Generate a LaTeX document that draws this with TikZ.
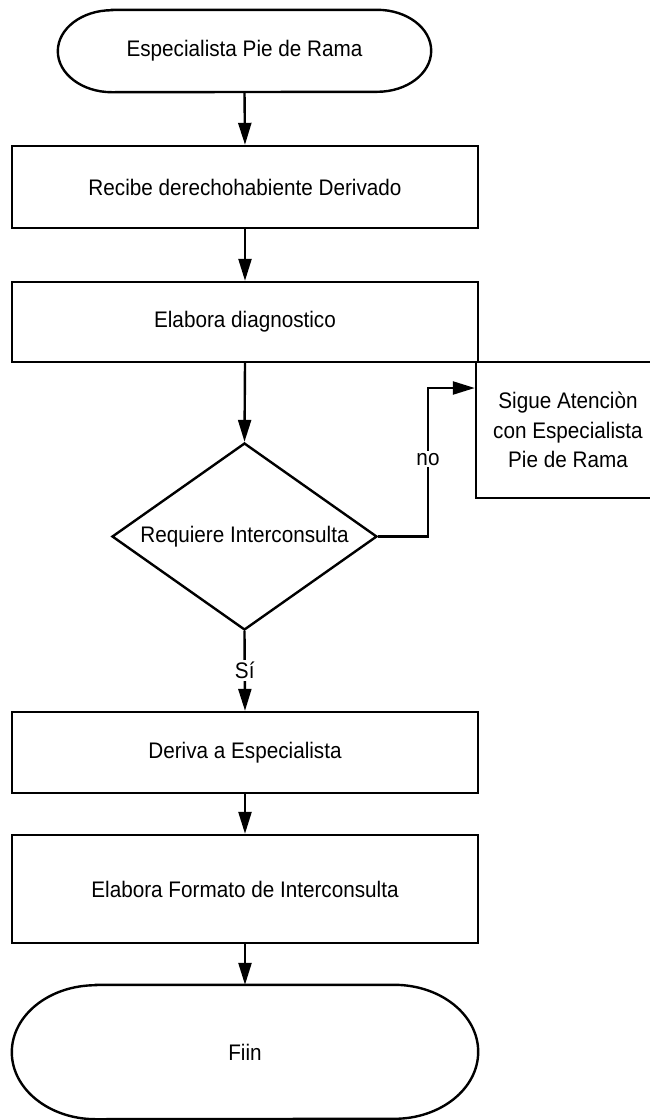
\documentclass[tikz,border=0pt]{standalone}
\usepackage{fontspec}
\setmainfont{Liberation Sans}[FakeStretch=0.92]
\usetikzlibrary{shapes.geometric,arrows.meta,calc}
\tikzset{
  every node/.style={font=\fontsize{22.5}{29.5}\selectfont, inner sep=0pt},
  procbox/.style={draw, line width=2.4pt, rectangle, minimum width=466pt},
  term/.style={rectangle},
  decision/.style={draw, line width=2.4pt, diamond, minimum width=265pt, minimum height=187pt, aspect=1.417},
  arr/.style={line width=2.4pt, -{Triangle[length=22pt,width=13pt]}},
  lbl/.style={fill=white, inner sep=2pt}
}
\begin{document}
\begin{tikzpicture}[x=1pt,y=1pt]
\useasboundingbox (0,0) rectangle (650,-1120);
\clip (0,0) rectangle (650,-1120);
\fill[white] (0,0) rectangle (650,-1120);
% nodes
\node[term, minimum width=373pt, minimum height=82pt] (start) at (244.5,-51) {Especialista Pie de Rama};
\draw[line width=2.4pt] ($(start.north west)+(54pt,0)$) -- ($(start.north east)-(54pt,0)$)
  arc[start angle=90,end angle=-90,x radius=54pt,y radius=41pt]
  -- ($(start.south west)+(54pt,0)$)
  arc[start angle=270,end angle=90,x radius=54pt,y radius=41pt] -- cycle;
\node[procbox, minimum height=82pt] (b1) at (245,-187) {Recibe derechohabiente Derivado};
\node[procbox, minimum height=80pt] (b2) at (245,-322) {Elabora diagnostico};
\node[decision] (dia) at (244.5,-536.5) {Requiere Interconsulta};
\node[procbox, minimum width=184pt, minimum height=136pt, align=center] (sigue) at (568,-430) {Sigue Atenciòn\\con Especialista\\Pie de Rama};
\node[procbox, minimum height=81pt] (b3) at (245,-752.5) {Deriva a Especialista};
\node[procbox, minimum height=108pt] (b4) at (245,-889) {Elabora Formato de Interconsulta};
\node[term, minimum width=466pt, minimum height=134pt] (fin) at (245,-1052) {Fiin};
\draw[line width=2.4pt] ($(fin.north west)+(84pt,0)$) -- ($(fin.north east)-(84pt,0)$)
  arc[start angle=90,end angle=-90,x radius=84pt,y radius=67pt]
  -- ($(fin.south west)+(84pt,0)$)
  arc[start angle=270,end angle=90,x radius=84pt,y radius=67pt] -- cycle;
% connectors
\draw[arr] (start.south) -- (b1.north);
\draw[arr] (b1.south) -- (b2.north);
\draw[arr] (b2.south) -- (dia.north);
\draw[arr] (dia.south) -- node[lbl, pos=0.49] {Sí} (b3.north);
\draw[arr] (b3.south) -- (b4.north);
\draw[arr] (b4.south) -- (fin.north);
\coordinate (k1) at (428,-536.5);
\coordinate (k2) at (428,-388);
\draw[arr] (dia.east) -- (k1) -- node[lbl, pos=0.52] {no} (k2) -- (k2 -| sigue.west);
\end{tikzpicture}
\end{document}
